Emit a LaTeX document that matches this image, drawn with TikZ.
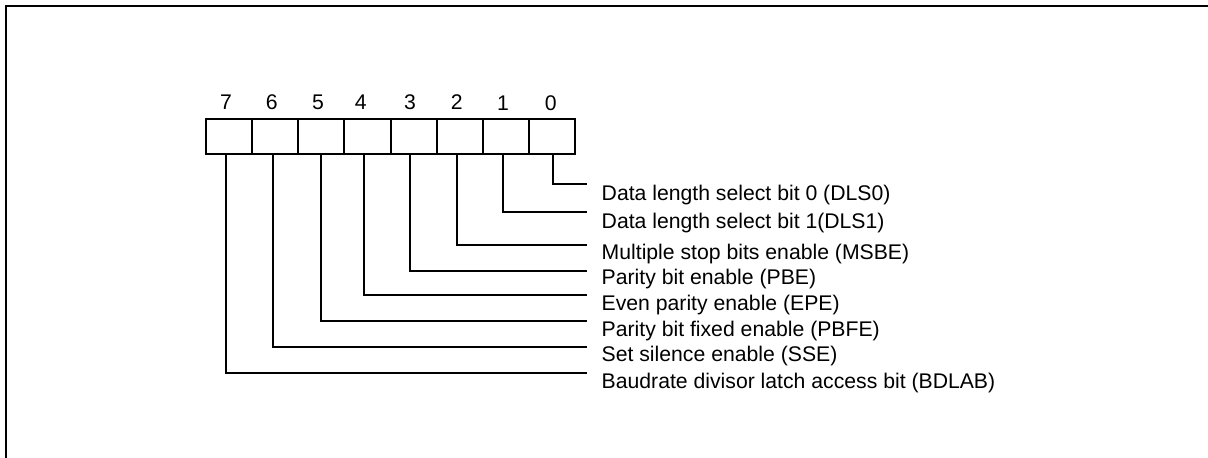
\documentclass[tikz,border=0pt]{standalone}
\usepackage{fontspec}
\setmainfont{Liberation Sans}
\begin{document}
\begin{tikzpicture}[x=1pt,y=-1pt,
  cell/.style={draw,line width=2pt,minimum width=46.125pt,minimum height=35pt,inner sep=0pt},
  bitnum/.style={anchor=base,inner sep=0pt,font=\fontsize{21.2}{25}\selectfont},
  desc/.style={anchor=base west,inner sep=0pt,font=\fontsize{21.2}{25}\selectfont},
  leader/.style={line width=2pt}]
\useasboundingbox (0,0) rectangle (1208,458);
% frame (only top and left edges visible)
\draw[line width=2pt] (6,458) -- (6,6) -- (1208,6);
% cells
\foreach \b [count=\k from 0] in {7,6,5,4,3,2,1,0}
  \node[cell] (c\b) at (229.06+46.125*\k,136.5) {};
% bit numbers
\node[bitnum] (n7) at (226,109) {7};
\node[bitnum] (n6) at (271.7,109) {6};
\node[bitnum] (n5) at (318,109) {5};
\node[bitnum] (n4) at (360.7,109) {4};
\node[bitnum] (n3) at (410,109) {3};
\node[bitnum] (n2) at (456.7,109) {2};
\node[bitnum] (n1) at (503,110) {1};
\node[bitnum] (n0) at (550.7,110) {0};
% descriptions
\node[desc] (d0) at (601.5,200.7) {Data length select bit 0 (DLS0)};
\node[desc] (d1) at (601.5,228.3) {Data length select bit 1(DLS1)};
\node[desc] (d2) at (601.5,259) {Multiple stop bits enable (MSBE)};
\node[desc] (d3) at (601.5,284.5) {Parity bit enable (PBE)};
\node[desc] (d4) at (601.5,310) {Even parity enable (EPE)};
\node[desc] (d5) at (601.5,336) {Parity bit fixed enable (PBFE)};
\node[desc] (d6) at (601.5,361.7) {Set silence enable (SSE)};
\node[desc] (d7) at (601.5,388.3) {Baudrate divisor latch access bit (BDLAB)};
% leader end points
\coordinate (e0) at (587,184.3);
\coordinate (e1) at (587,212.3);
\coordinate (e2) at (587,245);
\coordinate (e3) at (587,271);
\coordinate (e4) at (587,295);
\coordinate (e5) at (587,321);
\coordinate (e6) at (587,347.3);
\coordinate (e7) at (587,373.3);
% leaders
\draw[leader] ([xshift=0.7pt]c0.south) |- (e0);
\draw[leader] ([xshift=-3.1pt]c1.south) |- (e1);
\draw[leader] ([xshift=-3pt]c2.south) |- (e2);
\draw[leader] ([xshift=-3.6pt]c3.south) |- (e3);
\draw[leader] ([xshift=-3.4pt]c4.south) |- (e4);
\draw[leader] ([xshift=-0.6pt]c5.south) |- (e5);
\draw[leader] ([xshift=-2.5pt]c6.south) |- (e6);
\draw[leader] ([xshift=-3pt]c7.south) |- (e7);
\end{tikzpicture}
\end{document}
